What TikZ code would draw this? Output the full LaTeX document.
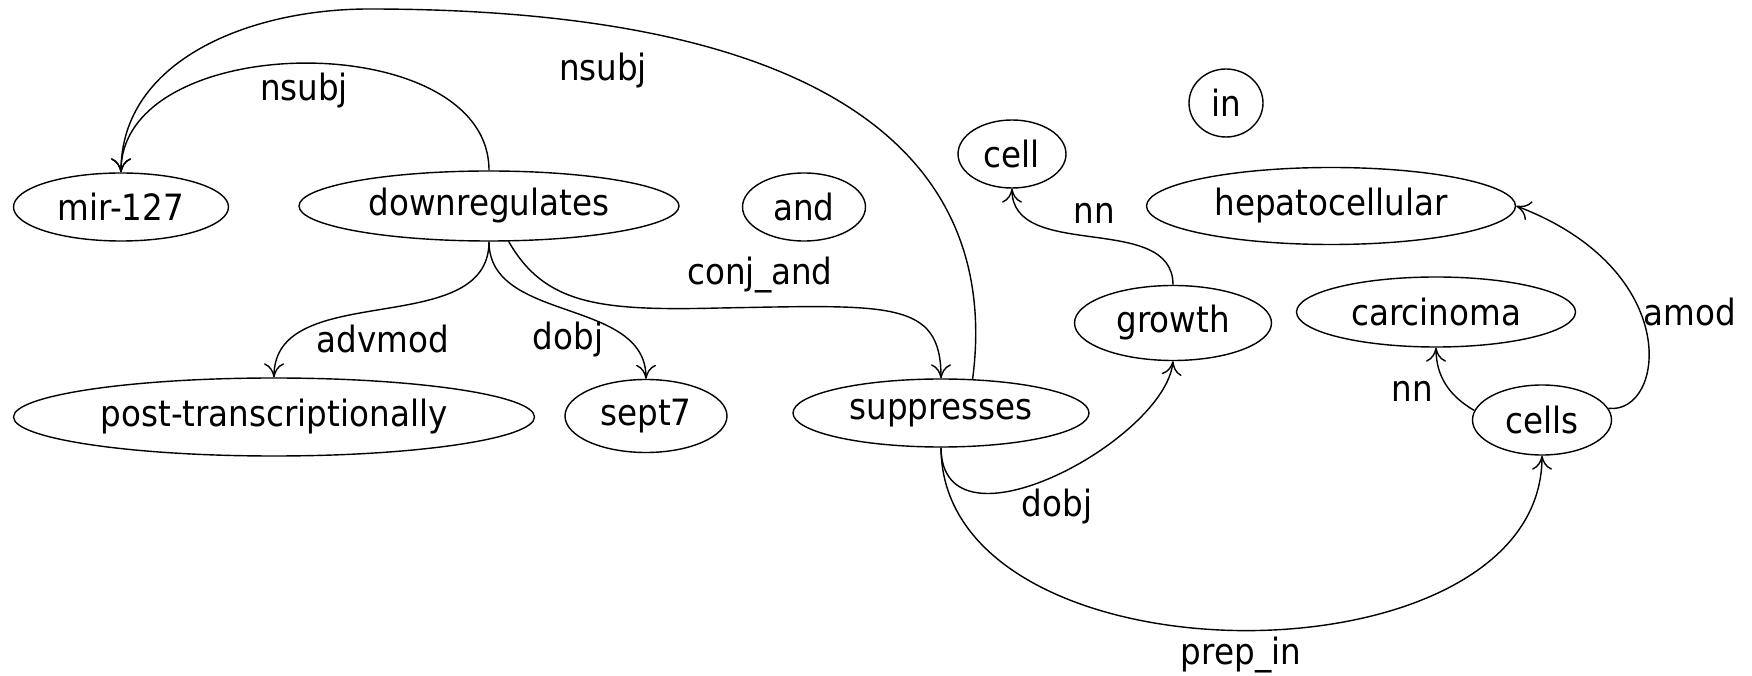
\documentclass[tikz,border=0pt]{standalone}
\usepackage{fontspec}
\setmainfont{DejaVu Sans}[FakeStretch=0.9]
\usepackage{tikz}
\usetikzlibrary{shapes.geometric,arrows.meta}
\tikzset{
  word/.style={ellipse,draw=black,line width=0.4pt,inner sep=0pt,minimum height=0.68cm},
  dep/.style={draw=black,line width=0.4pt,-{To[length=1.4mm,width=2mm]}},
  rel/.style={inner sep=0pt},
}

\begin{document}
\begin{tikzpicture}[scale=1,font=\fontsize{10.3}{12}\selectfont]
\useasboundingbox (0,0) rectangle (17.52,6.75);
% words of the sentence
\node[word,minimum width=2.15cm](mir) at (1.21,4.68){mir-127};\node[word,minimum width=3.80cm,minimum height=0.70cm](down) at (4.89,4.69){downregulates};
\node[word,minimum width=1.23cm](and) at (8.04,4.68){and};\node[word,minimum width=1.08cm](cell) at (10.12,5.21){cell};\node[word,minimum width=0.74cm](in) at (12.26,5.72){in};
\node[word,minimum width=3.69cm,minimum height=0.77cm](hep) at (13.31,4.69){hepatocellular};\node[word,minimum width=1.97cm,minimum height=0.75cm](growth) at (11.73,3.52){growth};
\node[word,minimum width=2.79cm,minimum height=0.70cm](carc) at (14.36,3.63){carcinoma};\node[word,minimum width=1.39cm,minimum height=0.70cm](cells) at (15.42,2.55){cells};
\node[word,minimum width=2.96cm](sup) at (9.41,2.62){suppresses};\node[word,minimum width=5.21cm,minimum height=0.78cm,inner xsep=-1.5mm](post) at (2.74,2.58){post-transcriptionally};
\node[word,minimum width=1.62cm,minimum height=0.73cm](sept) at (6.46,2.59){sept7};
% relation names
\node[rel](nsubjA) at (3.04,5.84){nsubj};\node[rel](nsubjB) at (6.03,6.04){nsubj};\node[rel](conj) at (7.60,4.00){conj\_and};
\node[rel](advmod) at (3.83,3.36){advmod};\node[rel](dobjA) at (5.68,3.35){dobj};\node[rel](nnA) at (10.94,4.62){nn};
\node[rel](amod) at (16.90,3.63){amod};\node[rel](nnB) at (14.12,2.84){nn};\node[rel](dobjB) at (10.57,1.68){dobj};\node[rel](prep) at (12.41,0.20){prep\_in};
% dependencies
\draw[dep] (down.north) to[out=90,in=90,looseness=1] (mir.north);
\draw[dep] (sup.47) .. controls (10.0,5.05) and (8.5,6.66) .. (3.69,6.66) .. controls (2.5,6.66) and (1.21,6.15) .. (mir.north);
\draw[dep] (down.-61) .. controls (5.45,3.70) and (6.0,3.64) .. (7.2,3.67) .. controls (8.9,3.70) and (9.41,3.75) .. (sup.north);
\draw[dep] (down.south) to[out=-90,in=90] (post.north);\draw[dep] (down.south) to[out=-90,in=90] (sept.north);
\draw[dep] (sup.south) .. controls (9.42,1.15) and (11.65,2.35) .. (growth.south);
\draw[dep] (sup.south) .. controls (9.42,-0.15) and (15.42,-0.15) .. (cells.south);
\draw[dep] (growth.north) to[out=90,in=-90] (cell.south);
\draw[dep] (cells.172) to[out=150,in=-90] (carc.south);
\draw[dep] (cells.10) .. controls (16.65,2.60) and (16.85,4.05) .. (hep.east);
\end{tikzpicture}
\end{document}
